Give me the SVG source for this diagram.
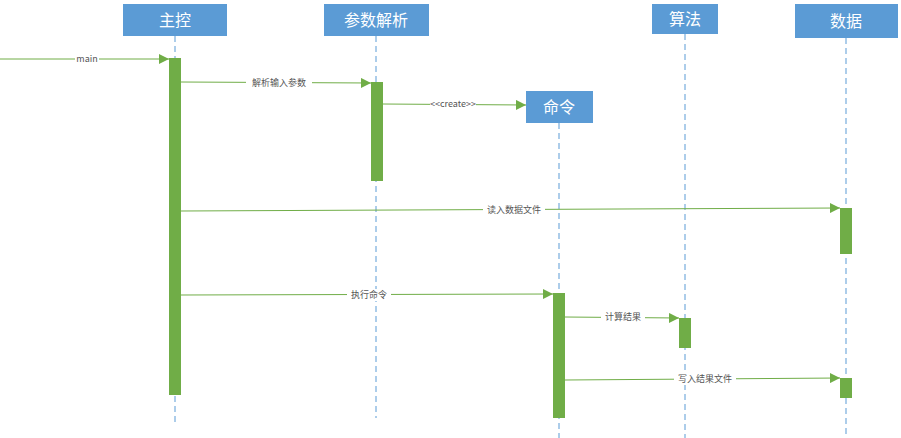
<svg xmlns="http://www.w3.org/2000/svg" width="901" height="438" viewBox="0 0 901 438">
<style>
.box{fill:#5b9bd5}
.t{font-family:"Noto Sans CJK SC","Liberation Sans",sans-serif;font-size:16px;fill:#fff;text-anchor:middle}
.life{stroke:#5b9bd5;stroke-width:1;stroke-dasharray:6,4}
.act{fill:#70ad47}
.msg{stroke:#70ad47;stroke-width:1;fill:none;marker-end:url(#a)}
.lb{font-family:"Noto Sans CJK SC","Liberation Sans",sans-serif;font-size:9px;fill:#555;text-anchor:middle}
.bg{fill:#fff}
</style>
<defs><marker id="a" viewBox="0 0 10 10" refX="10" refY="5" markerWidth="10" markerHeight="10" markerUnits="userSpaceOnUse" orient="auto"><path d="M0,0L10,5L0,10z" fill="#70ad47"/></marker></defs>
<rect width="901" height="438" fill="#fff"/>
<g id="lifelines">
<line class="life" x1="175" y1="36" x2="175" y2="425"/>
<line class="life" x1="376" y1="36" x2="376" y2="418"/>
<line class="life" x1="559" y1="123" x2="559" y2="438"/>
<line class="life" x1="685" y1="34" x2="685" y2="438"/>
<line class="life" x1="846" y1="38" x2="846" y2="438"/>
</g>
<g id="n-zhukong"><rect class="box" x="123" y="4" width="104" height="32"/><text class="t" x="175" y="26">主控</text></g>
<g id="n-canshu"><rect class="box" x="324" y="4" width="105" height="32"/><text class="t" x="376" y="26">参数解析</text></g>
<g id="n-mingling"><rect class="box" x="526" y="91" width="67" height="32"/><text class="t" x="559" y="113">命令</text></g>
<g id="n-suanfa"><rect class="box" x="652" y="4" width="66" height="30"/><text class="t" x="685" y="25">算法</text></g>
<g id="n-shuju"><rect class="box" x="795" y="4" width="103" height="34"/><text class="t" x="846" y="27">数据</text></g>
<g id="activations">
<rect class="act" x="169" y="58" width="12" height="337"/>
<rect class="act" x="371" y="82" width="12" height="99"/>
<rect class="act" x="553" y="293" width="12" height="125"/>
<rect class="act" x="679" y="318" width="12" height="30"/>
<rect class="act" x="840" y="208" width="12" height="46"/>
<rect class="act" x="840" y="378" width="12" height="20"/>
</g>
<g id="connectors">
<line class="msg" x1="0" y1="59" x2="169" y2="59"/>
<line class="msg" x1="181" y1="82" x2="371" y2="83"/>
<line class="msg" x1="383" y1="104" x2="526" y2="105"/>
<line class="msg" x1="181" y1="211" x2="840" y2="208"/>
<line class="msg" x1="181" y1="295" x2="553" y2="294"/>
<line class="msg" x1="565" y1="317" x2="679" y2="318"/>
<line class="msg" x1="565" y1="380" x2="840" y2="378"/>
<rect class="bg" x="75" y="54" width="24" height="10"/><text class="lb" x="87" y="62">main</text>
<rect class="bg" x="246" y="77" width="66" height="11"/><text class="lb" x="279" y="86">解析输入参数</text>
<rect class="bg" x="430" y="99" width="46" height="11"/><text class="lb" x="453" y="107">&lt;&lt;create&gt;&gt;</text>
<rect class="bg" x="483" y="204" width="62" height="12"/><text class="lb" x="514" y="213">读入数据文件</text>
<rect class="bg" x="347" y="289" width="44" height="12"/><text class="lb" x="369" y="298">执行命令</text>
<rect class="bg" x="601" y="311" width="44" height="12"/><text class="lb" x="623" y="320">计算结果</text>
<rect class="bg" x="674" y="373" width="62" height="12"/><text class="lb" x="705" y="382">写入结果文件</text>
</g>
</svg>
